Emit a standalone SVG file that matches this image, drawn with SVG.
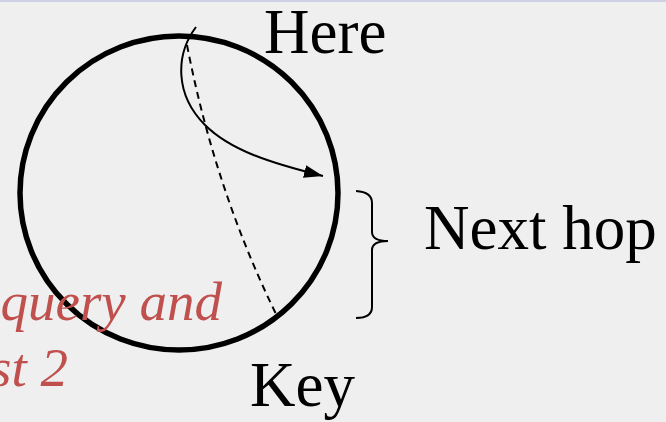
<svg xmlns="http://www.w3.org/2000/svg" width="666" height="422" viewBox="0 0 666 422">
  <defs>
    <style>
      .lbl { font-family: "Liberation Serif", "Times New Roman", serif; font-size: 63px; fill: #000; }
      .note { font-family: "Liberation Serif", "Times New Roman", serif; font-size: 55px; font-style: italic; fill: #c0504d; }
      .ring { fill: none; stroke: #000; stroke-width: 5.5; }
      .path { fill: none; stroke: #000; stroke-width: 2; }
      .dash { fill: none; stroke: #000; stroke-width: 2; stroke-dasharray: 7 5; }
      .brace { fill: none; stroke: #000; stroke-width: 2; }
    </style>
    <marker id="arrow" viewBox="0 0 19 13" refX="19" refY="6.5" markerWidth="19" markerHeight="13" markerUnits="userSpaceOnUse" orient="auto">
      <path d="M0,0 L19,6.5 L0,13 Z" fill="#000"/>
    </marker>
  </defs>
  <rect x="0" y="0" width="666" height="422" fill="#efefef"/>
  <rect x="0" y="0" width="666" height="2" fill="#cfd0e6"/>

  <g id="ring">
    <ellipse class="ring" cx="179" cy="193" rx="159" ry="157"/>
  </g>

  <g id="connectors">
    <path class="dash" d="M187,45 Q215,190 277,316"/>
    <path class="path" d="M196,27 C175,55 175,95 205,125 C230,150 270,163 323,176" marker-end="url(#arrow)"/>
  </g>

  <g id="brace">
    <path class="brace" d="M356,191 Q372,192 372,203 L372,232 Q372,241 388,241 Q372,241 372,250 L372,307 Q372,318 356,318"/>
  </g>

  <g id="here">
    <text class="lbl" x="264" y="53">Here</text>
  </g>
  <g id="next-hop">
    <text class="lbl" x="424" y="249">Next hop</text>
  </g>
  <g id="key">
    <text class="lbl" x="250" y="406">Key</text>
  </g>
  <g id="note">
    <text class="note" x="222" y="320" text-anchor="end">query and</text>
    <text class="note" x="68" y="386" text-anchor="end">st 2</text>
  </g>
</svg>
